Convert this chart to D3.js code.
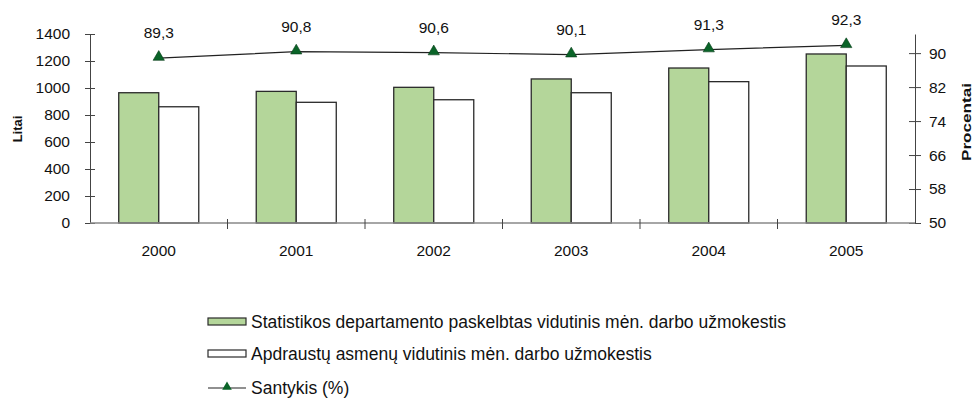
<!DOCTYPE html>
<html>
<head>
<meta charset="utf-8">
<script src="https://cdn.jsdelivr.net/npm/d3@7"></script>
<style>
  body { margin: 0; background: #fff; }
  text { font-family: "Liberation Sans", Arial, sans-serif; fill: #111; }
</style>
</head>
<body>
<div id="chart"></div>
<script>
// Data
var years = ["2000", "2001", "2002", "2003", "2004", "2005"];
var statValues = [965, 975, 1005, 1067, 1148, 1252];   // Statistikos departamento ...
var insuredValues = [861, 894, 913, 965, 1047, 1163];  // Apdraustų asmenų ...
var ratioValues = [89.3, 90.8, 90.6, 90.1, 91.3, 92.3];
var ratioLabels = ["89,3", "90,8", "90,6", "90,1", "91,3", "92,3"];
var leftTicks = [0, 200, 400, 600, 800, 1000, 1200, 1400];
var rightTicks = [50, 58, 66, 74, 82, 90];
var seriesNames = [
  "Statistikos departamento paskelbtas vidutinis mėn. darbo užmokestis",
  "Apdraustų asmenų vidutinis mėn. darbo užmokestis",
  "Santykis (%)"
];

var svgWidth = 974;
var svgHeight = 401;
var plot = { left: 90, right: 915, top: 34, bottom: 223 };

var svg = d3.select("#chart")
  .append("svg")
  .attr("width", svgWidth)
  .attr("height", svgHeight);

// scales
var x = d3.scaleBand()
  .domain(years)
  .range([plot.left, plot.right])
  .paddingInner(0.418)
  .paddingOuter(0.209);
var xSub = d3.scaleBand()
  .domain(["stat", "insured"])
  .range([0, x.bandwidth()]);
var yLeft = d3.scaleLinear().domain([0, 1400]).range([plot.bottom, plot.top]);
var yRight = d3.scaleLinear().domain([50, 94.5]).range([plot.bottom, plot.top]);

// bars
var bars = svg.append("g");
years.forEach(function(yr, i) {
  bars.append("rect")
    .attr("x", x(yr) + xSub("stat"))
    .attr("y", yLeft(statValues[i]))
    .attr("width", xSub.bandwidth())
    .attr("height", yLeft(0) - yLeft(statValues[i]))
    .attr("fill", "#b4d69a")
    .attr("stroke", "#2a2a2a")
    .attr("stroke-width", 1.3);
  bars.append("rect")
    .attr("x", x(yr) + xSub("insured"))
    .attr("y", yLeft(insuredValues[i]))
    .attr("width", xSub.bandwidth())
    .attr("height", yLeft(0) - yLeft(insuredValues[i]))
    .attr("fill", "#fff")
    .attr("stroke", "#2a2a2a")
    .attr("stroke-width", 1.3);
});

// left axis
var leftAxis = svg.append("g")
  .attr("transform", `translate(${plot.left},0)`)
  .call(d3.axisLeft(yLeft).tickValues(leftTicks).tickFormat(d3.format("d"))
    .tickSize(5).tickPadding(15).tickSizeOuter(0));
leftAxis.selectAll(".tick line").attr("x1", 5).attr("stroke", "#444");
leftAxis.select(".domain").attr("stroke", "#444");
leftAxis.selectAll("text").style("font-size", "15.5px").attr("fill", "#111");

// right axis
var rightAxis = svg.append("g")
  .attr("transform", `translate(${plot.right},0)`)
  .call(d3.axisRight(yRight).tickValues(rightTicks).tickSize(6).tickPadding(8).tickSizeOuter(0));
rightAxis.selectAll(".tick line").attr("x1", -6).attr("stroke", "#444");
rightAxis.select(".domain").attr("stroke", "#444");
rightAxis.selectAll("text").style("font-size", "15.5px").attr("fill", "#111");

// x axis baseline, boundary ticks and labels
var gap = (x.step() - x.bandwidth()) / 2;
svg.append("line")
  .attr("x1", plot.left).attr("x2", plot.right)
  .attr("y1", plot.bottom).attr("y2", plot.bottom)
  .attr("stroke", "#888").attr("stroke-width", 1.3);
years.slice(1).forEach(function(yr) {
  svg.append("line")
    .attr("x1", x(yr) - gap).attr("x2", x(yr) - gap)
    .attr("y1", plot.bottom - 4).attr("y2", plot.bottom + 6)
    .attr("stroke", "#444");
});
svg.append("g").selectAll("text")
  .data(years)
  .enter()
  .append("text")
  .attr("x", d => x(d) + x.bandwidth() / 2)
  .attr("y", 256)
  .attr("text-anchor", "middle")
  .style("font-size", "15.5px")
  .text(d => d);

// ratio line with triangles (sits ~2px lower than the axis, as in the original)
var lineGroup = svg.append("g").attr("transform", "translate(0,2)");
var cx = d => x(d) + x.bandwidth() / 2;
var line = d3.line()
  .x((d, i) => cx(years[i]))
  .y(d => yRight(d));
lineGroup.append("path")
  .datum(ratioValues)
  .attr("d", line)
  .attr("fill", "none")
  .attr("stroke", "#222")
  .attr("stroke-width", 1.2);
var tri = d3.symbol().type(d3.symbolTriangle).size(55);
lineGroup.selectAll("path.mark")
  .data(ratioValues)
  .enter()
  .append("path")
  .attr("class", "mark")
  .attr("d", tri)
  .attr("transform", (d, i) => `translate(${cx(years[i])},${yRight(d) - 1})`)
  .attr("fill", "#0a6428")
  .attr("stroke", "#063d18")
  .attr("stroke-width", 0.6);
lineGroup.selectAll("text")
  .data(ratioValues)
  .enter()
  .append("text")
  .attr("x", (d, i) => cx(years[i]))
  .attr("y", d => yRight(d) - 20)
  .attr("text-anchor", "middle")
  .style("font-size", "15.5px")
  .text((d, i) => ratioLabels[i]);

// axis titles
svg.append("text")
  .attr("transform", "translate(22,129) rotate(-90)")
  .attr("text-anchor", "middle")
  .style("font-size", "13px")
  .style("font-weight", "bold")
  .text("Litai");
svg.append("text")
  .attr("transform", "translate(971,122) rotate(-90)")
  .attr("text-anchor", "middle")
  .attr("textLength", 78)
  .attr("lengthAdjust", "spacingAndGlyphs")
  .style("font-size", "13px")
  .style("font-weight", "bold")
  .text("Procentai");

// legend
var legend = svg.append("g");
var rowY = [322, 354, 388];
legend.append("rect")
  .attr("x", 208).attr("y", rowY[0] - 4).attr("width", 38).attr("height", 7)
  .attr("fill", "#b4d69a").attr("stroke", "#2a2a2a").attr("stroke-width", 1.2);
legend.append("rect")
  .attr("x", 208).attr("y", rowY[1] - 4).attr("width", 38).attr("height", 7)
  .attr("fill", "#fff").attr("stroke", "#2a2a2a").attr("stroke-width", 1.2);
legend.append("line")
  .attr("x1", 208).attr("x2", 246).attr("y1", rowY[2]).attr("y2", rowY[2])
  .attr("stroke", "#222").attr("stroke-width", 1.2);
legend.append("path")
  .attr("d", d3.symbol().type(d3.symbolTriangle).size(40))
  .attr("transform", `translate(227,${rowY[2] - 1})`)
  .attr("fill", "#0a6428");
legend.selectAll("text.leg")
  .data(seriesNames)
  .enter()
  .append("text")
  .attr("class", "leg")
  .attr("x", 251)
  .attr("y", (d, i) => rowY[i] + 6)
  .style("font-size", "17.5px")
  .text(d => d);
</script>
</body>
</html>
